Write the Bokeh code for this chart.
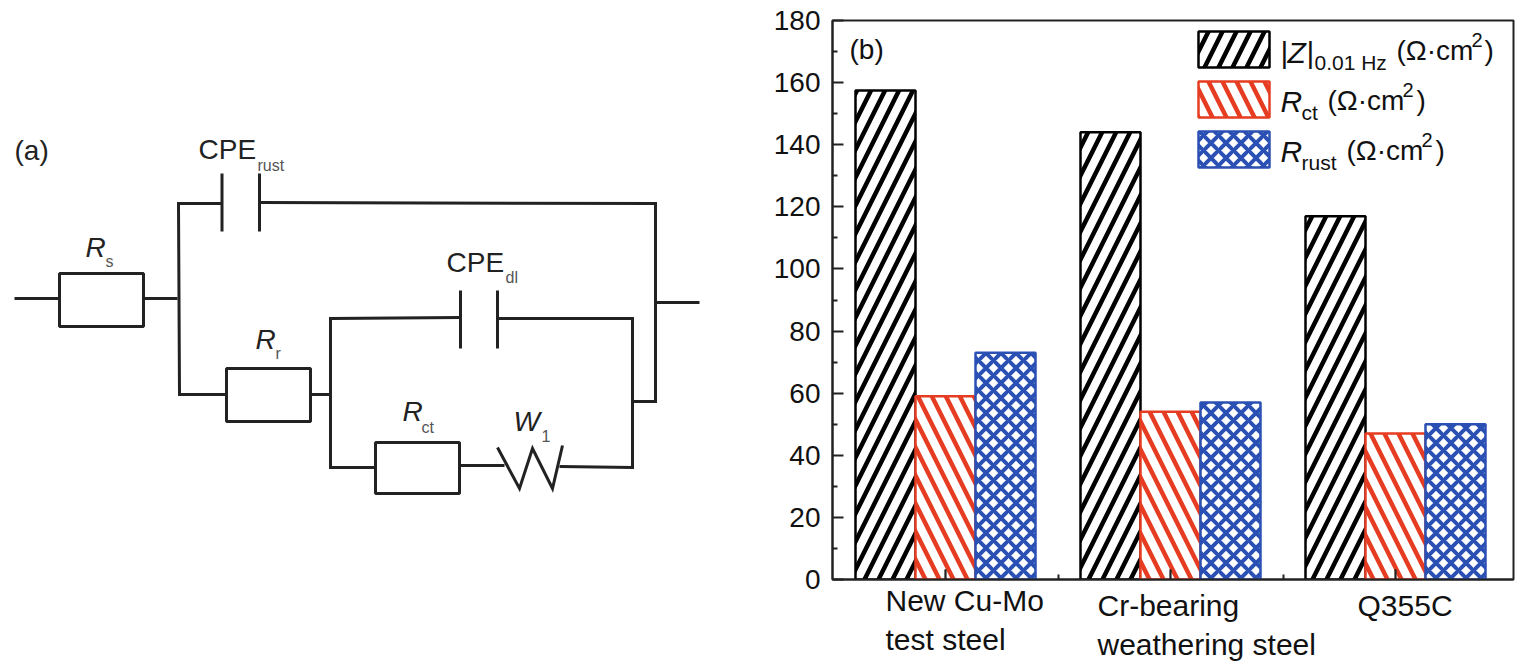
from bokeh.plotting import figure
from bokeh.layouts import row, column
from bokeh.models import Range1d, FixedTicker, Label
from bokeh.embed import file_html
from bokeh.resources import INLINE

FONT = "Liberation Sans"
INK = "#222222"
GREY = "#555555"
RED = "#e63c22"
BLUE = "#2b50b4"
BASE_SHIFT = 0.38  # the page draws labels this many em below the requested baseline

# ---------- panel (b) data ----------
categories = ["New Cu-Mo\ntest steel", "Cr-bearing\nweathering steel", "Q355C"]
z_values = [157.5, 144, 117]
rct_values = [59, 54, 47]
rrust_values = [73, 57, 50]
y_ticks = [0, 20, 40, 60, 80, 100, 120, 140, 160, 180]

# ---------- panel (a) schematic, page pixels ----------
wires = [
    [(14, 298), (59, 298)], [(143, 298), (177, 298)],
    [(221, 203), (178, 203), (179, 394), (226, 394)],
    [(260, 202), (655, 203), (655, 401), (632, 401)],
    [(655, 302), (699, 302)], [(310, 394), (330, 394)],
    [(460, 317), (330, 318), (330, 467), (375, 467)],
    [(497, 318), (632, 318), (632, 467), (559, 466)],
    [(459, 465), (504, 465)],
    [(497, 447), (519, 488), (532, 448), (552, 488), (562, 445)],
]
plates = [
    [(221.5, 173), (221.5, 231)], [(259, 173), (259, 231)],
    [(460, 290), (460, 348)], [(497, 290), (497, 348)],
]
resistors = [(59, 143, 273, 326), (226, 310, 368, 421), (375, 459, 442, 493)]
labels_a = [
    ("(a)", 14, 161, 28, "normal", INK),
    ("CPE", 198, 160, 28, "normal", INK), ("rust", 257, 171, 16, "normal", GREY),
    ("R", 85, 258, 28, "italic", INK), ("s", 105, 267, 16, "normal", GREY),
    ("R", 255, 350, 28, "italic", INK), ("r", 275, 359, 16, "normal", GREY),
    ("CPE", 446, 273, 28, "normal", INK), ("dl", 505, 283, 16, "normal", GREY),
    ("R", 402, 422, 28, "italic", INK), ("ct", 421, 433, 16, "normal", GREY),
    ("W", 513, 432, 28, "italic", INK), ("1", 541, 442, 16, "normal", GREY),
]

# ---------- panel (a) ----------
pa = figure(width=768, height=666, x_range=Range1d(0, 768), y_range=Range1d(666, 0),
            toolbar_location=None, output_backend="svg", min_border=0, frame_align=False)
pa.axis.visible = False
pa.grid.visible = False
pa.outline_line_color = None
xs = [[q[0] for q in w] for w in wires + plates]
ys = [[q[1] for q in w] for w in wires + plates]
pa.multi_line(xs, ys, line_color=INK, line_width=3, line_join="miter")
pa.quad(left=[r[0] for r in resistors], right=[r[1] for r in resistors],
        top=[r[2] for r in resistors], bottom=[r[3] for r in resistors],
        fill_color=None, line_color=INK, line_width=3)
for t, x, y, s, st, c in labels_a:
    pa.add_layout(Label(x=x, y=y - BASE_SHIFT * s, text=t, text_font=FONT, text_font_size=f"{s}px",
                        text_font_style=st, text_color=c, text_baseline="alphabetic"))

# ---------- panel (b) ----------
def dx(px):
    return 1 + (px - 945) / 225

def dy(py):
    return (579 - py) / 3.105

pb = figure(width=747, height=600, x_range=Range1d(dx(832), dx(1513)), y_range=Range1d(0, 180),
            toolbar_location=None, output_backend="svg", frame_align=False,
            min_border_left=64, min_border_right=2, min_border_top=20, min_border_bottom=21)
pb.grid.visible = False
pb.outline_line_color = INK
pb.outline_line_width = 2

ax = pb.yaxis[0]
ax.ticker = FixedTicker(ticks=y_ticks, minor_ticks=[v + 10 for v in y_ticks[:-1]])
ax.major_tick_in, ax.major_tick_out = 11, 0
ax.minor_tick_in, ax.minor_tick_out = 5, 0
ax.major_label_text_font = FONT
ax.major_label_text_font_size = "28px"
ax.major_label_text_color = "#111111"
ax.major_label_standoff = 12
ax.axis_line_width = ax.major_tick_line_width = ax.minor_tick_line_width = 2
ax.axis_line_color = ax.major_tick_line_color = ax.minor_tick_line_color = INK

groups = [1, 2, 3]
bx = pb.xaxis[0]
bx.ticker = FixedTicker(ticks=groups, minor_ticks=[1.5, 2.5])
bx.major_label_overrides = {g: "" for g in groups}
bx.major_label_text_font_size = "1px"
bx.major_label_standoff = 0
bx.major_tick_in, bx.major_tick_out = 10, 0
bx.minor_tick_in, bx.minor_tick_out = 5, 0
bx.axis_line_width = bx.major_tick_line_width = bx.minor_tick_line_width = 2
bx.axis_line_color = bx.major_tick_line_color = bx.minor_tick_line_color = INK

BAR = 60 / 225
series = [
    (z_values, -1, "black", "right_diagonal_line", 28, 4.5),
    (rct_values, 0, RED, "left_diagonal_line", 28, 4.5),
    (rrust_values, 1, BLUE, "diagonal_cross", 15, 4),
]
for vals, off, col, pat, sc, wt in series:
    pb.vbar(x=[g + off * BAR for g in groups], top=vals, bottom=0, width=BAR,
            fill_color="white", line_color=col, line_width=2.5,
            hatch_pattern=pat, hatch_color=col, hatch_scale=sc, hatch_weight=wt)
# the group ticks stand on top of the bars
pb.segment(x0=groups, y0=[0, 0, 0], x1=groups, y1=[10 / 3.105] * 3, line_color=INK, line_width=1.5)

# legend swatches
swatches = [(31, 67), (81, 117), (131, 167)]
for (t, b), (_, _, col, pat, sc, wt) in zip(swatches, series):
    pb.quad(left=dx(1198), right=dx(1269), top=dy(t), bottom=dy(b),
            fill_color="white", line_color=col, line_width=2.5,
            hatch_pattern=pat, hatch_color=col, hatch_scale=sc, hatch_weight=wt)

labels_b = [
    ("(b)", 849, 60, 28, "normal"),
    ("|", 1280, 63, 30, "normal"), ("Z", 1287, 63, 30, "italic"), ("|", 1306, 63, 30, "normal"),
    ("0.01 Hz", 1314, 70, 21, "normal"), ("(Ω·cm", 1396, 61, 28, "normal"),
    ("2", 1471, 47, 20, "normal"), (")", 1484, 61, 28, "normal"),
    ("R", 1280, 112, 30, "italic"), ("ct", 1301, 120, 21, "normal"), ("(Ω·cm", 1327, 111, 28, "normal"),
    ("2", 1402, 97, 20, "normal"), (")", 1416, 111, 28, "normal"),
    ("R", 1280, 162, 30, "italic"), ("rust", 1301, 170, 21, "normal"), ("(Ω·cm", 1346, 161, 28, "normal"),
    ("2", 1421, 147, 20, "normal"), (")", 1435, 161, 28, "normal"),
]
for t, x, y, s, st in labels_b:
    pb.add_layout(Label(x=dx(x), y=dy(y - BASE_SHIFT * s), text=t, text_font=FONT, text_font_size=f"{s}px",
                        text_font_style=st, text_color="#111111", text_baseline="alphabetic"))

# category captions, in page pixels; this strip overlaps the empty foot of the bar panel
pc = figure(width=747, height=81, x_range=Range1d(768, 1515), y_range=Range1d(666, 585),
            toolbar_location=None, output_backend="svg", min_border=0, frame_align=False,
            margin=(-15, 0, 0, 0), background_fill_alpha=0, border_fill_alpha=0)
pc.axis.visible = False
pc.grid.visible = False
pc.outline_line_color = None
cat_pos = [(885, [611, 650]), (1097, [616, 655]), (1357, [616])]
for cat, (x, lines) in zip(categories, cat_pos):
    for part, y in zip(cat.split("\n"), lines):
        pc.add_layout(Label(x=x, y=y - BASE_SHIFT * 30, text=part, text_font=FONT, text_font_size="30px",
                            text_color="#111111", text_baseline="alphabetic"))

page = row(pa, column(pb, pc, spacing=0), spacing=0)
open("out.html", "w").write(file_html(page, INLINE))
